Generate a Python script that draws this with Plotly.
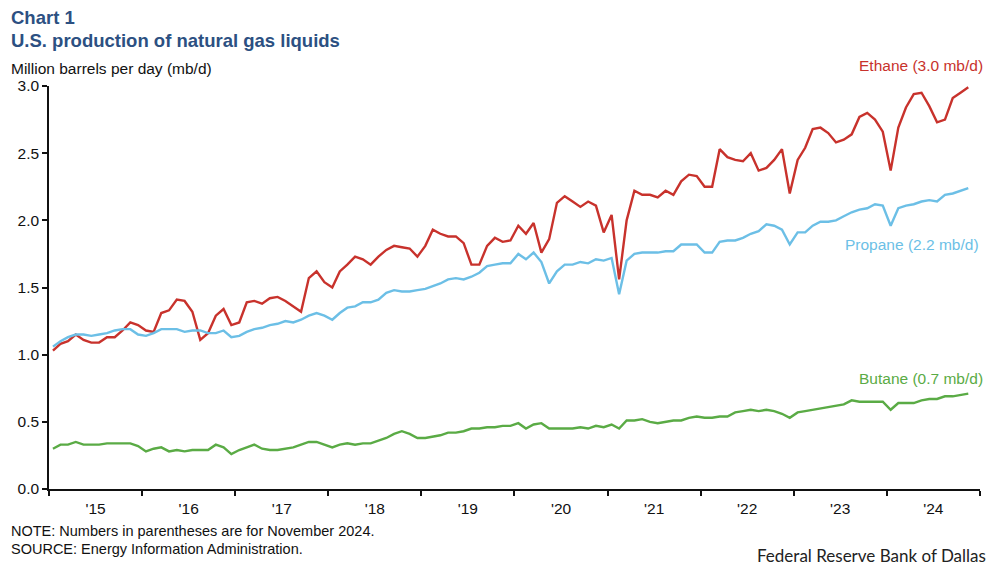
import pandas as pd
import plotly.graph_objects as go

# Monthly data, Jan 2015 - Nov 2024 (million barrels per day)
months = pd.date_range("2015-01-01", "2024-11-01", freq="MS")

ethane = [
    1.03, 1.08, 1.10, 1.15, 1.11, 1.09, 1.09, 1.13, 1.13, 1.18, 1.24, 1.22,
    1.18, 1.17, 1.31, 1.33, 1.41, 1.40, 1.32, 1.11, 1.16, 1.29, 1.34, 1.22,
    1.24, 1.39, 1.40, 1.38, 1.42, 1.43, 1.40, 1.36, 1.32, 1.57, 1.62, 1.54,
    1.50, 1.62, 1.67, 1.73, 1.71, 1.67, 1.73, 1.78, 1.81, 1.80, 1.79, 1.73,
    1.81, 1.93, 1.90, 1.88, 1.88, 1.83, 1.67, 1.67, 1.81, 1.87, 1.84, 1.85,
    1.96, 1.90, 1.98, 1.76, 1.86, 2.13, 2.18, 2.14, 2.10, 2.14, 2.11, 1.91,
    2.04, 1.56, 2.00, 2.22, 2.19, 2.19, 2.17, 2.22, 2.19, 2.29, 2.34, 2.33,
    2.25, 2.25, 2.53, 2.47, 2.45, 2.44, 2.50, 2.37, 2.39, 2.45, 2.53, 2.20,
    2.45, 2.54, 2.68, 2.69, 2.65, 2.58, 2.60, 2.64, 2.77, 2.80, 2.75, 2.66,
    2.37, 2.69, 2.84, 2.94, 2.95, 2.85, 2.73, 2.75, 2.91, 2.95, 2.99,
]

propane = [
    1.06, 1.10, 1.13, 1.15, 1.15, 1.14, 1.15, 1.16, 1.18, 1.19, 1.19, 1.15,
    1.14, 1.16, 1.19, 1.19, 1.19, 1.17, 1.18, 1.18, 1.16, 1.16, 1.18, 1.13,
    1.14, 1.17, 1.19, 1.20, 1.22, 1.23, 1.25, 1.24, 1.26, 1.29, 1.31, 1.29,
    1.26, 1.31, 1.35, 1.36, 1.39, 1.39, 1.41, 1.46, 1.48, 1.47, 1.47, 1.48,
    1.49, 1.51, 1.53, 1.56, 1.57, 1.56, 1.58, 1.61, 1.66, 1.67, 1.68, 1.68,
    1.75, 1.71, 1.76, 1.69, 1.53, 1.62, 1.67, 1.67, 1.69, 1.68, 1.71, 1.70,
    1.72, 1.45, 1.70, 1.75, 1.76, 1.76, 1.76, 1.77, 1.77, 1.82, 1.82, 1.82,
    1.76, 1.76, 1.84, 1.85, 1.85, 1.87, 1.90, 1.92, 1.97, 1.96, 1.93, 1.82,
    1.91, 1.91, 1.96, 1.99, 1.99, 2.00, 2.03, 2.06, 2.08, 2.09, 2.12, 2.11,
    1.96, 2.09, 2.11, 2.12, 2.14, 2.15, 2.14, 2.19, 2.20, 2.22, 2.24,
]

butane = [
    0.30, 0.33, 0.33, 0.35, 0.33, 0.33, 0.33, 0.34, 0.34, 0.34, 0.34, 0.32,
    0.28, 0.30, 0.31, 0.28, 0.29, 0.28, 0.29, 0.29, 0.29, 0.33, 0.31, 0.26,
    0.29, 0.31, 0.33, 0.30, 0.29, 0.29, 0.30, 0.31, 0.33, 0.35, 0.35, 0.33,
    0.31, 0.33, 0.34, 0.33, 0.34, 0.34, 0.36, 0.38, 0.41, 0.43, 0.41, 0.38,
    0.38, 0.39, 0.40, 0.42, 0.42, 0.43, 0.45, 0.45, 0.46, 0.46, 0.47, 0.47,
    0.49, 0.45, 0.48, 0.49, 0.45, 0.45, 0.45, 0.45, 0.46, 0.45, 0.47, 0.46,
    0.48, 0.45, 0.51, 0.51, 0.52, 0.50, 0.49, 0.50, 0.51, 0.51, 0.53, 0.54,
    0.53, 0.53, 0.54, 0.54, 0.57, 0.58, 0.59, 0.58, 0.59, 0.58, 0.56, 0.53,
    0.57, 0.58, 0.59, 0.60, 0.61, 0.62, 0.63, 0.66, 0.65, 0.65, 0.65, 0.65,
    0.59, 0.64, 0.64, 0.64, 0.66, 0.67, 0.67, 0.69, 0.69, 0.70, 0.71,
]

series_names = ["Ethane", "Propane", "Butane"]
latest_labels = ["Ethane (3.0 mb/d)", "Propane (2.2 mb/d)", "Butane (0.7 mb/d)"]
y_ticks = [0.0, 0.5, 1.0, 1.5, 2.0, 2.5, 3.0]

# ---- styling / layout ----
W, H = 997, 565
L, R, T, B = 49, 17, 86, 76
pw, ph = W - L - R, H - T - B

def pxx(x):
    return (x - L) / pw

def pxy(y):
    return (H - B - y) / ph

FONT = "Arial, Liberation Sans, sans-serif"
colors = ["#c8322c", "#6cbfe6", "#5aab45"]

fig = go.Figure()
for name, vals, c in zip(series_names, [ethane, propane, butane], colors):
    fig.add_trace(go.Scatter(
        x=months, y=vals, name=name, mode="lines",
        line=dict(color=c, width=2.4),
        xperiod="M1", xperiodalignment="middle",
        hoverinfo="x+y",
    ))

annotations = [
    dict(text="<b>Chart 1</b>", x=pxx(9), y=pxy(17), font=dict(size=18.5, color="#2c5082")),
    dict(text="<b>U.S. production of natural gas liquids</b>", x=pxx(9), y=pxy(40),
         font=dict(size=18.5, color="#2c5082")),
    dict(text="Million barrels per day (mb/d)", x=pxx(9), y=pxy(68),
         font=dict(size=15.5, color="#111111")),
    dict(text="NOTE: Numbers in parentheses are for November 2024.", x=pxx(9), y=pxy(531),
         font=dict(size=14.5, color="#111111")),
    dict(text="SOURCE: Energy Information Administration.", x=pxx(9), y=pxy(549),
         font=dict(size=14.5, color="#111111")),
]
for a in annotations:
    a.update(xref="paper", yref="paper", xanchor="left", yanchor="middle",
             showarrow=False, align="left")
    a["font"]["family"] = FONT

label_pos = [(985, 65), (981, 244), (985, 378)]
for txt, c, (xp, yp) in zip(latest_labels, colors, label_pos):
    annotations.append(dict(text=txt, xref="paper", yref="paper", x=pxx(xp), y=pxy(yp),
                            xanchor="right", yanchor="middle", showarrow=False,
                            font=dict(size=15.5, color=c, family=FONT)))

annotations.append(dict(text="Federal Reserve Bank of Dallas", xref="paper", yref="paper",
                        x=pxx(988), y=pxy(555), xanchor="right", yanchor="middle",
                        showarrow=False,
                        font=dict(size=17, color="#222222", family="Lato, Open Sans, sans-serif")))

fig.update_layout(
    width=W, height=H,
    margin=dict(l=L, r=R, t=T, b=B, pad=0),
    paper_bgcolor="white", plot_bgcolor="white",
    showlegend=False,
    font=dict(family=FONT, size=15, color="#111111"),
    annotations=annotations,
)

fig.update_xaxes(
    type="date",
    range=["2015-01-01", "2025-01-01"],
    dtick="M12", tick0="2015-01-01",
    tickformat="'%y", ticklabelmode="period",
    ticks="outside", ticklen=5, tickwidth=1.5, tickcolor="#111111",
    showline=True, linecolor="#111111", linewidth=1.5,
    showgrid=False, zeroline=False,
    tickfont=dict(size=15.5, color="#111111"),
)
fig.update_yaxes(
    range=[0, 3.0],
    tickvals=y_ticks, tickformat=".1f",
    ticks="outside", ticklen=5, tickwidth=1.5, tickcolor="#111111",
    showline=True, linecolor="#111111", linewidth=1.5,
    showgrid=False, zeroline=False,
    tickfont=dict(size=15.5, color="#111111"),
)

fig.write_html("out.html",
               config={"displayModeBar": False},
               post_script="document.body.style.margin='0';document.body.style.padding='0';")
